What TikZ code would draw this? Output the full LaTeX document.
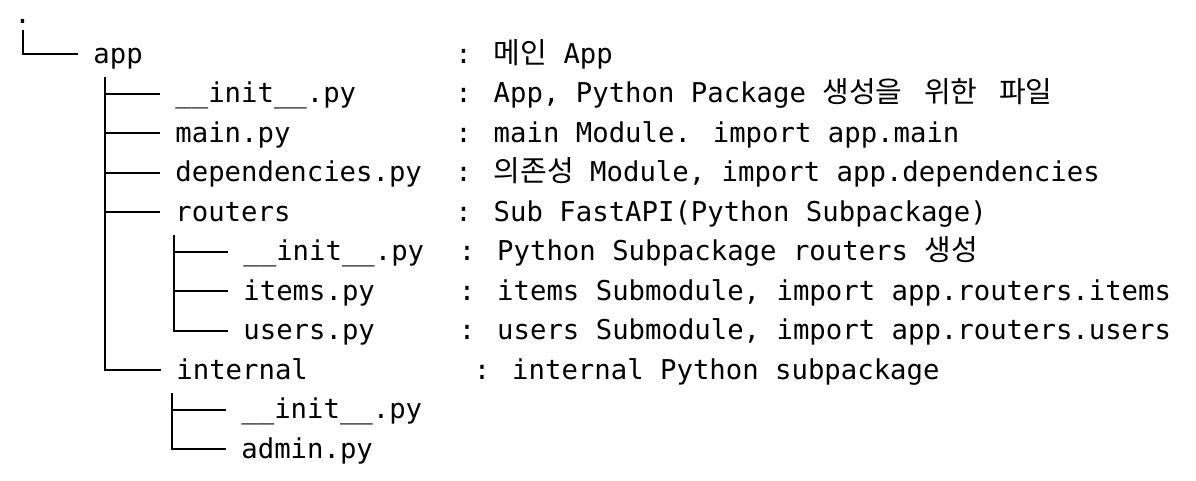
\documentclass[tikz,border=0pt]{standalone}
\usepackage{fontspec}
\newfontfamily\monof{DejaVu Sans Mono}
\newfontfamily\krf{Noto Sans CJK KR}
\usetikzlibrary{calc}
\newcommand\ko[1]{{\krf\fontsize{14.5}{16}\selectfont #1}}
\newcommand\ksp{\hspace{10.8pt}}
\tikzset{
  entry/.style={anchor=base west, inner sep=0pt, text=black,
    font=\monof\fontsize{13.65}{16}\selectfont},
  branch/.style={line width=1pt, draw=black},
}
\begin{document}
\begin{tikzpicture}[x=0.5pt,y=-0.5pt]
\useasboundingbox (0,0) rectangle (1196,481);
% names
\node[entry] (root) at (14,23.8) {.};
\node[entry] (app) at (93,63.3) {app};
\node[entry] (init1) at (175,102.8) {\_\_init\_\_.py};
\node[entry] (main) at (175,142.3) {main.py};
\node[entry] (dep) at (175,181.8) {dependencies.py};
\node[entry] (routers) at (175,221.3) {routers};
\node[entry] (init2) at (243,260.8) {\_\_init\_\_.py};
\node[entry] (items) at (243,300.3) {items.py};
\node[entry] (users) at (243,339.8) {users.py};
\node[entry] (internal) at (176,379.3) {internal};
\node[entry] (init3) at (241,418.8) {\_\_init\_\_.py};
\node[entry] (admin) at (241,458.3) {admin.py};
% descriptions
\node[entry] (d-app) at (455,63.3) {: \ko{메인} App};
\node[entry] (d-init1) at (455,102.8) {: App, Python Package \ko{생성을}\ksp\ko{위한}\ksp\ko{파일}};
\node[entry] (d-main) at (455,142.3) {: main Module. import app.main};
\node[entry] (d-dep) at (455,181.8) {: \ko{의존성} Module, import app.dependencies};
\node[entry] (d-routers) at (455,221.3) {: Sub FastAPI(Python Subpackage)};
\node[entry] (d-init2) at (458.5,260.8) {: Python Subpackage routers \ko{생성}};
\node[entry] (d-items) at (458.5,300.3) {: items Submodule, import app.routers.items};
\node[entry] (d-users) at (458.5,339.8) {: users Submodule, import app.routers.users};
\node[entry] (d-internal) at (473.5,379.3) {: internal Python subpackage};
% branch origins
\coordinate (root-v) at (22.5,30);
\coordinate (app-v) at (105,77.3);
\coordinate (routers-v) at (173.5,235.3);
\coordinate (internal-v) at (172,393.3);
% branches
\draw[branch] (root-v) |- ($(app.base west)+(-15.5,-9)$);
\foreach \c in {init1,main,dep,routers,internal}
  \draw[branch] (app-v) |- ($(\c.base west)+(-15.5,-9)$);
\foreach \c in {init2,items,users}
  \draw[branch] (routers-v) |- ($(\c.base west)+(-15.5,-9)$);
\foreach \c in {init3,admin}
  \draw[branch] (internal-v) |- ($(\c.base west)+(-15.5,-9)$);
\end{tikzpicture}
\end{document}
